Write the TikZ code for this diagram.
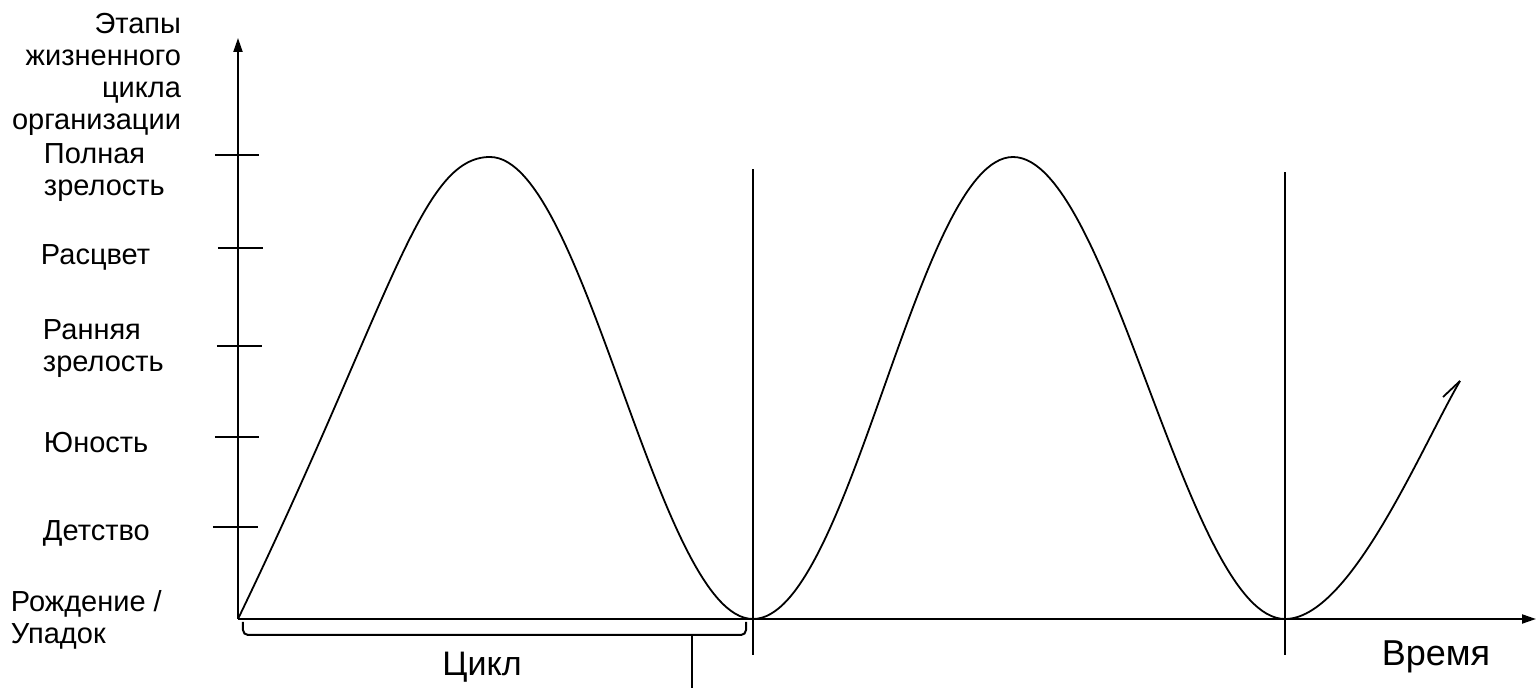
\documentclass[tikz,border=0pt]{standalone}
\usepackage{fontspec}
\setmainfont{Liberation Sans}
\usetikzlibrary{arrows.meta}

\begin{document}
\begin{tikzpicture}[x=0.5pt,y=0.5pt,line width=1pt,
    lbl/.style={font=\fontsize{14.5pt}{16pt}\selectfont,inner sep=0pt,align=left}]
    \useasboundingbox (-238,-70) rectangle (1298,619);
    % axes
    \draw[-{Triangle[length=7pt,width=4.5pt]}] (0,0) -- (0,581);
    \draw[-{Triangle[length=7pt,width=4.5pt]}] (0,0) -- (1298,0);
    % stage ticks
    \draw (-23,464) -- (21,464);
    \draw (-20,371) -- (25,371);
    \draw (-21,273) -- (24,273);
    \draw (-23,182) -- (21,182);
    \draw (-25,92) -- (20,92);
    % cycle boundaries
    \draw (515,-36) -- (515,450);
    \draw (1047,-36) -- (1047,447);
    % life cycle curve
    \draw[line width=0.9pt] (0,0) .. controls (154,319) and (182,462) .. (252,462)
        .. controls (347,462) and (420,0) .. (515,0)
        .. controls (612,0) and (680,462) .. (775,462)
        .. controls (872,462) and (949,0) .. (1047,0)
        .. controls (1112,0) and (1182,169) .. (1222,238);
    \draw[line width=0.9pt] (1205,222) -- (1222,238);
    % brace under the first cycle
    \draw[rounded corners=2.5pt] (5,-3) -- (5,-16) -- (454,-16) -- (508,-16) -- (508,-3);
    \draw (454,-16) -- (454,-69);
    % labels
    \node[lbl,anchor=north east,align=right] (stages) at (-56,607)
        {Этапы\\жизненного\\цикла\\организации};
    \node[lbl,anchor=west] (full) at (-195,446) {Полная\\зрелость};
    \node[lbl,anchor=west] (bloom) at (-198,362) {Расцвет};
    \node[lbl,anchor=west] (early) at (-196,270) {Ранняя\\зрелость};
    \node[lbl,anchor=west] (youth) at (-195,176) {Юность};
    \node[lbl,anchor=west] (child) at (-196,86) {Детство};
    \node[lbl,anchor=west] (birth) at (-228,-1) {Рождение /\\Упадок};
    \node[lbl,font=\fontsize{17pt}{19pt}\selectfont] (cycle) at (244,-48) {Цикл};
    \node[lbl,font=\fontsize{18pt}{20pt}\selectfont] (time) at (1198,-38) {Время};
\end{tikzpicture}
\end{document}
